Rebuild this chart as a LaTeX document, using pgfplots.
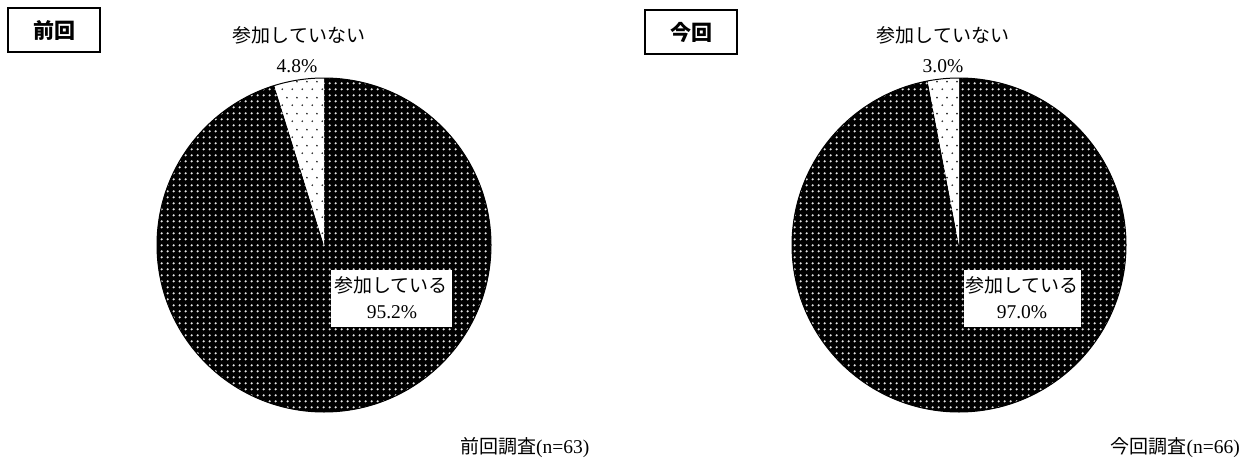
\documentclass[border=0pt]{standalone}
\usepackage{pgfplots}
\pgfplotsset{compat=1.18}
\usepackage{pgfplotstable}
\usepackage{fontspec}
\setmainfont{Liberation Serif}
\newfontfamily\cjk{Noto Sans CJK JP}
\usetikzlibrary{patterns}

\pgfdeclarepatternformonly{densedots}{\pgfpointorigin}{\pgfpoint{5.7bp}{5.7bp}}{\pgfpoint{5.7bp}{5.7bp}}{\pgfpathcircle{\pgfpoint{2.85bp}{2.85bp}}{1.3bp}\pgfusepath{fill}}
\pgfdeclarepatternformonly{sparsedots}{\pgfpointorigin}{\pgfpoint{10bp}{16bp}}{\pgfpoint{10bp}{16bp}}{\pgfpathcircle{\pgfpoint{2.5bp}{4bp}}{1bp}\pgfpathcircle{\pgfpoint{7.5bp}{12bp}}{1bp}\pgfusepath{fill}}

\pgfplotstableread{
slice value
yes 95.2
no 4.8
}\prevtable
\pgfplotstableread{
slice value
yes 97.0
no 3.0
}\currtable

\newcommand{\pie}[1]{%
  \pgfplotstablegetelem{0}{value}\of#1
  \pgfmathsetmacro\angA{90-3.6*\pgfplotsretval}%
  \fill[black] (axis cs:0,0) -- (axis cs:0,1) arc[start angle=90, end angle=\angA, radius=1] -- cycle;
  \fill[pattern=densedots, pattern color=white!80!gray] (axis cs:0,0) -- (axis cs:0,1) arc[start angle=90, end angle=\angA, radius=1] -- cycle;
  \fill[white] (axis cs:0,0) -- (axis cs:0,1) arc[start angle=90, end angle=\angA+360, radius=1] -- cycle;
  \fill[pattern=sparsedots, pattern color=black!85] (axis cs:0,0) -- (axis cs:0,1) arc[start angle=90, end angle=\angA+360, radius=1] -- cycle;
  \draw[black, line width=1bp] (axis cs:0,0) circle[radius=1];
}

\begin{document}
\begin{tikzpicture}
\useasboundingbox (0,0) rectangle (1245bp,-461bp);
\begin{axis}[at={(324bp,-245bp)}, anchor=center, x=167bp, y=167bp,
  xmin=-1, xmax=1, ymin=-1, ymax=1, hide axis, clip=false]
\pie{\prevtable}
\end{axis}
\begin{axis}[at={(959bp,-245bp)}, anchor=center, x=167bp, y=167bp,
  xmin=-1, xmax=1, ymin=-1, ymax=1, hide axis, clip=false]
\pie{\currtable}
\end{axis}

\tikzset{jp/.style={font=\cjk\fontsize{19bp}{23bp}\selectfont, inner sep=0pt},
         num/.style={font=\fontsize{19.5bp}{22bp}\selectfont, inner sep=0pt}}
% boxes
\node[draw, line width=1.5bp, minimum width=92bp, minimum height=44bp, font=\cjk\bfseries\fontsize{21bp}{24bp}\selectfont] at (54bp,-30bp) {前回};
\node[draw, line width=1.5bp, minimum width=92bp, minimum height=44bp, font=\cjk\bfseries\fontsize{21bp}{24bp}\selectfont] at (691bp,-32bp) {今回};
% small slice labels
\node[jp] at (299bp,-35bp) {参加していない};
\node[num] at (297bp,-66bp) {4.8\%};
\node[jp] at (943bp,-35bp) {参加していない};
\node[num] at (943bp,-66bp) {3.0\%};
% big slice labels
\node[fill=white, minimum width=121bp, minimum height=57bp, inner sep=0pt] at (391bp,-298.5bp) {};
\node[jp] at (391bp,-285bp) {参加している};
\node[num] at (392bp,-312bp) {95.2\%};
\node[fill=white, minimum width=117bp, minimum height=57bp, inner sep=0pt] at (1022.5bp,-298.5bp) {};
\node[jp] at (1022bp,-285bp) {参加している};
\node[num] at (1022bp,-312bp) {97.0\%};
% captions
\node[anchor=west, inner sep=0pt] at (460bp,-448bp) {{\cjk\fontsize{19bp}{23bp}\selectfont 前回調査}{\fontsize{19.5bp}{22bp}\selectfont (n=63)}};
\node[anchor=east, inner sep=0pt] at (1240bp,-448bp) {{\cjk\fontsize{19bp}{23bp}\selectfont 今回調査}{\fontsize{19.5bp}{22bp}\selectfont (n=66)}};
\end{tikzpicture}
\end{document}
